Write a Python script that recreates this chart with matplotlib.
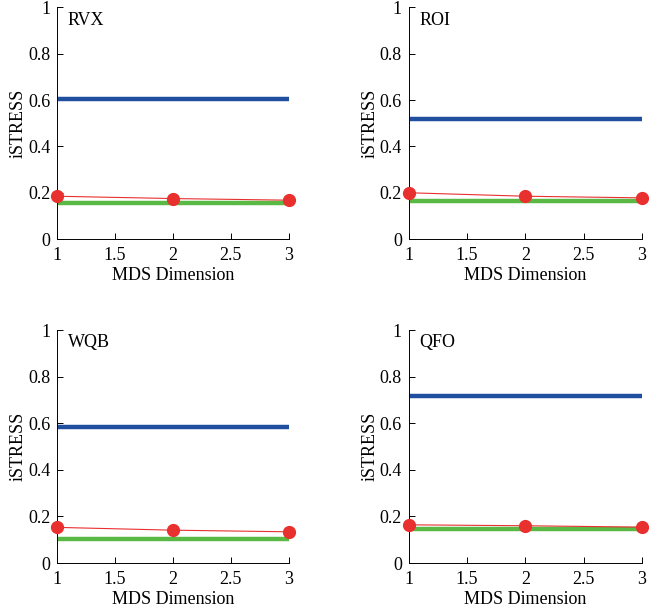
import matplotlib
matplotlib.use("Agg")
import matplotlib.pyplot as plt

plt.rcParams['font.family'] = ['Liberation Serif', 'DejaVu Serif']
plt.rcParams['font.size'] = 13

dims = [1, 2, 3]
names = ["RVX", "ROI", "WQB", "QFO"]
blue_level = [0.603, 0.518, 0.583, 0.716]
green_level = [0.155, 0.164, 0.104, 0.144]
red_rvx = [0.185, 0.175, 0.168]
red_roi = [0.200, 0.185, 0.178]
red_wqb = [0.153, 0.141, 0.134]
red_qfo = [0.164, 0.160, 0.154]
red_series = [red_rvx, red_roi, red_wqb, red_qfo]

fig = plt.figure(figsize=(6.49, 6.10), dpi=100)
positions = [[0.088, 0.608, 0.357, 0.380],
             [0.630, 0.608, 0.359, 0.380],
             [0.088, 0.077, 0.357, 0.382],
             [0.630, 0.077, 0.359, 0.382]]

for i in range(4):
    ax = fig.add_axes(positions[i])
    ax.plot(dims, [blue_level[i]] * 3, color="#1f4f9e", lw=3.2, solid_capstyle="butt")
    ax.plot(dims, [green_level[i]] * 3, color="#5ab845", lw=3.2, solid_capstyle="butt")
    ax.plot(dims, red_series[i], color="#e8302f", lw=0.8, marker="o", ms=8.5,
            clip_on=False, zorder=5)
    ax.text(1.09, 0.945, names[i], va="center", ha="left")
    ax.set_xlim(1, 3)
    ax.set_ylim(0, 1)
    ax.set_xticks([1, 1.5, 2, 2.5, 3])
    ax.set_xticklabels(["1", "1.5", "2", "2.5", "3"])
    ax.set_yticks([0, 0.2, 0.4, 0.6, 0.8, 1])
    ax.set_yticklabels(["0", "0.2", "0.4", "0.6", "0.8", "1"])
    ax.spines["top"].set_visible(False)
    ax.spines["right"].set_visible(False)
    ax.spines["left"].set_linewidth(0.7)
    ax.spines["bottom"].set_linewidth(0.7)
    ax.tick_params(direction="in", length=4, width=0.7)
    ax.tick_params(axis="x", pad=6)
    ax.tick_params(axis="y", pad=5)
    ax.set_xlabel("MDS Dimension", labelpad=2)
    ax.set_ylabel("iSTRESS", labelpad=1)

fig.savefig("out.png", dpi=100)
